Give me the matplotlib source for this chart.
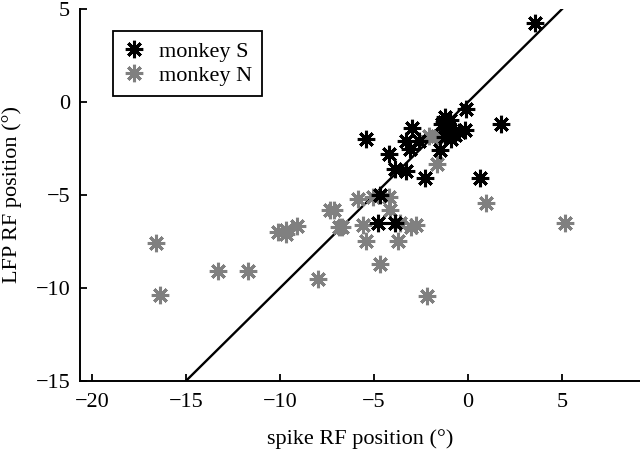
import matplotlib
matplotlib.use("Agg")
import matplotlib.pyplot as plt
import numpy as np

plt.rcParams['font.family'] = ['Liberation Serif', 'DejaVu Serif']
plt.rcParams['mathtext.fontset'] = 'stix'

# monkey S (black)
s_x = [3.56, 1.76, -0.11, -0.16, -1.2, -0.95, -1.4, -1.0, -0.7, -1.2, -1.5, -0.5,
       -3.0, -3.3, -3.1, -2.6, -5.4, -4.2, -3.9, -3.3, -2.3, 0.65, -4.7, -4.8, -3.9,
       -1.3, -0.9]
s_y = [4.25, -1.2, -0.4, -1.5, -0.8, -0.95, -1.2, -1.4, -1.8, -1.9, -2.6, -1.6,
       -1.4, -2.1, -2.5, -2.1, -2.0, -2.8, -3.6, -3.7, -4.1, -4.1, -5.0, -6.5, -6.5,
       -1.1, -2.0]

# monkey N (gray)
n_x = [-16.6, -16.4, -13.3, -11.7, -10.1, -9.7, -9.1, -9.7, -7.96, -7.35, -7.15,
       -6.85, -6.7, -5.85, -5.6, -5.45, -5.04, -4.18, -4.15, -3.7, -3.6, -3.05,
       -2.75, -4.68, -2.16, 0.94, 5.16, -1.67, -2.1, -1.67]
n_y = [-7.6, -10.4, -9.1, -9.1, -7.0, -6.9, -6.65, -7.1, -9.5, -5.8, -5.8,
       -6.75, -6.7, -5.2, -6.6, -7.45, -5.1, -5.1, -5.8, -7.45, -6.5, -6.7,
       -6.6, -8.74, -10.43, -5.42, -6.52, -3.33, -1.83, -1.83]

# identity line range
line_x = [-15, 5]

xticks = [-20, -15, -10, -5, 0, 5]
yticks = [-15, -10, -5, 0, 5]

fig = plt.figure(figsize=(6.4, 4.55), dpi=100)
ax = fig.add_axes([0.125, 0.163, 0.875, 0.817])

ax.plot(line_x, line_x, color='black', lw=1.7, zorder=1)

mk = (8, 2, 0)
ax.plot(s_x, s_y, linestyle='none', marker=mk, markersize=12.5, markeredgewidth=2.2,
        color='black', label='monkey S', zorder=3)
ax.plot(n_x, n_y, linestyle='none', marker=mk, markersize=12.5, markeredgewidth=2.2,
        color='#808080', label='monkey N', zorder=2)

ax.set_xlim(-20.64, 9.15)
ax.set_ylim(-15, 5)
ax.set_xticks(xticks)
ax.set_yticks(yticks)
ax.set_xticklabels(['\u2212' + str(-t) if t < 0 else str(t) for t in xticks])
ax.set_yticklabels(['\u2212' + str(-t) if t < 0 else str(t) for t in yticks])

for side in ['top', 'right']:
    ax.spines[side].set_visible(False)
for side in ['left', 'bottom']:
    ax.spines[side].set_linewidth(1.4)
ax.tick_params(direction='in', length=5, width=1.3, labelsize=16)
ax.tick_params(axis='x', pad=9)
ax.tick_params(axis='y', pad=7)

ax.set_xlabel('spike RF position (°)', fontsize=16, labelpad=12)
ax.set_ylabel('LFP RF position (°)', fontsize=16)
ax.yaxis.set_label_coords(-0.104, 0.5)

leg = ax.legend(loc='upper left', bbox_to_anchor=(0.059, 0.94), fontsize=16,
                frameon=True, fancybox=False, edgecolor='black', framealpha=1,
                handlelength=1.0, handletextpad=0.6, borderpad=0.45, labelspacing=0.15,
                borderaxespad=0)
leg.get_frame().set_linewidth(1.3)

fig.savefig('out.png', dpi=100)
